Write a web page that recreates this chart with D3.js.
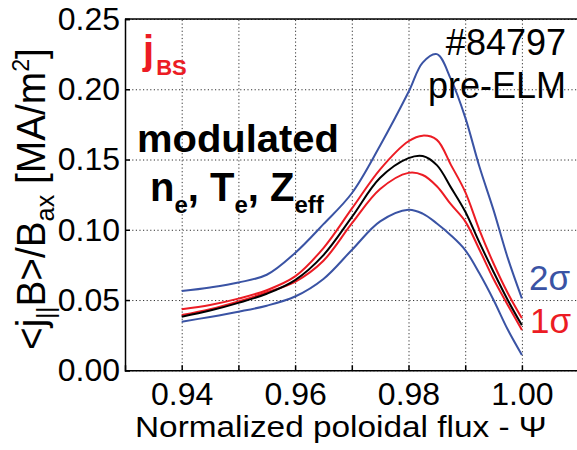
<!DOCTYPE html>
<html>
<meta charset="utf-8">
<style>
body { margin: 0; background: #fff; }
svg { display: block; }
text { font-family: "Liberation Sans", Arial, sans-serif; white-space: pre; }
.grid line { stroke: #333; stroke-width: 1; stroke-dasharray: 1.2, 2.4; }
.grid path { display: none; }
.axis path, .axis line { stroke: #000; stroke-width: 1.5; }
.axis text { font-size: 32px; fill: #000; }
</style>
<body>
<script src="https://cdn.jsdelivr.net/npm/d3@7"></script>
<script>

var width = 577,
    height = 450,
    x0 = 125, x1 = 578.6,
    y0 = 370.3, y1 = 19;

var blue = '#3a53a4',
    red = '#ec1c24';

/* normalized poloidal flux */
var psi = [0.94, 0.945, 0.95, 0.955, 0.96, 0.965, 0.97, 0.975, 0.98, 0.9825, 0.985, 0.9875, 0.99, 0.9925, 0.995, 0.9975, 1.00];

/* <j B>/B_ax, MA/m^2 */
var jMean   = [0.0381, 0.0425, 0.048, 0.0545, 0.0642, 0.082, 0.109, 0.137, 0.151, 0.1525, 0.146, 0.130, 0.113, 0.091, 0.070, 0.050, 0.032];
var jUp1    = [0.0434, 0.0465, 0.051, 0.057, 0.0668, 0.087, 0.115, 0.143, 0.163, 0.167, 0.164, 0.146, 0.127, 0.100, 0.076, 0.055, 0.037];
var jLow1   = [0.0393, 0.0435, 0.049, 0.0555, 0.0630, 0.078, 0.1045, 0.129, 0.1405, 0.139, 0.131, 0.118, 0.106, 0.086, 0.065, 0.0465, 0.0287];
var jUp2    = [0.0564, 0.059, 0.0625, 0.068, 0.0835, 0.104, 0.126, 0.160, 0.198, 0.219, 0.225, 0.207, 0.180, 0.145, 0.114, 0.080, 0.0512];
var jLow2   = [0.0346, 0.038, 0.0417, 0.046, 0.0525, 0.065, 0.0856, 0.106, 0.1143, 0.1115, 0.1045, 0.096, 0.0856, 0.069, 0.050, 0.029, 0.0109];

var xTicks = [0.94, 0.95, 0.96, 0.97, 0.98, 0.99, 1.00],
    xLabels = [0.94, 0.96, 0.98, 1.00],
    yTicks = [0, 0.05, 0.10, 0.15, 0.20, 0.25];

var svg = d3.select("body").append("svg")
    .attr("width", width)
    .attr("height", height);

var x = d3.scaleLinear().domain([0.93, 1.01]).range([x0, x1]);
var y = d3.scaleLinear().domain([0, 0.25]).range([y0, y1]);

/* dotted grid */
svg.append("g").attr("class", "grid")
    .attr("transform", "translate(0," + y0 + ")")
    .call(d3.axisBottom(x).tickValues(xTicks).tickSize(-(y0 - y1)).tickFormat(""));
svg.append("g").attr("class", "grid")
    .attr("transform", "translate(" + x0 + ",0)")
    .call(d3.axisLeft(y).tickValues(yTicks).tickSize(-(x1 - x0)).tickFormat(""));

/* axes, ticks pointing inward */
svg.append("g").attr("class", "axis")
    .attr("transform", "translate(0," + y0 + ")")
    .call(d3.axisBottom(x).tickValues(xTicks).tickSize(-5).tickPadding(8)
        .tickFormat(function(d) { return xLabels.indexOf(d) >= 0 ? d3.format(".2f")(d) : ""; }))
    .call(function(g) { g.selectAll("text").attr("dy", "0.71em").attr("y", 12); });
svg.append("g").attr("class", "axis")
    .attr("transform", "translate(" + x0 + ",0)")
    .call(d3.axisLeft(y).tickValues(yTicks).tickSize(-5).tickPadding(5).tickFormat(d3.format(".2f")));
svg.append("line")
    .attr("x1", x0).attr("x2", x1).attr("y1", y1).attr("y2", y1)
    .attr("stroke", "#000").attr("stroke-width", 1.5);

/* profiles */
var line = d3.line()
    .x(function(d) { return x(d[0]); })
    .y(function(d) { return y(d[1]); })
    .curve(d3.curveCatmullRom.alpha(0.5));

var series = [
    [jUp2, blue], [jLow2, blue],
    [jUp1, red], [jLow1, red],
    [jMean, '#000']
];
series.forEach(function(s) {
    svg.append("path")
        .datum(psi.map(function(p, i) { return [p, s[0][i]]; }))
        .attr("fill", "none")
        .attr("stroke", s[1])
        .attr("stroke-width", 2)
        .attr("d", line);
});

/* stretch a text along its own direction to a given length */
function fit(sel, len) {
    var w = sel.node().getBBox().width;
    var t = sel.attr("transform") || "";
    sel.attr("transform", t + " scale(" + (len / w) + ",1)");
}

/* axis titles */
var xt = svg.append("text")
    .attr("font-size", 30)
    .text("Normalized poloidal flux - \u03a8");
xt.attr("transform", "translate(135,437)");
fit(xt, 412);

var yt = svg.append("text")
    .attr("font-size", 40);
yt.append("tspan").text("<j");
yt.append("tspan").attr("font-size", 24).attr("dy", 9).text("||");
yt.append("tspan").attr("dy", -9).text("B>/B");
yt.append("tspan").attr("font-size", 26).attr("dy", 9).text("ax");
yt.append("tspan").attr("dy", -9).text(" [MA/m");
yt.append("tspan").attr("font-size", 24).attr("dy", -16).text("2");
yt.append("tspan").attr("dy", 16).text("]");
yt.attr("transform", "translate(45,350) rotate(-90)");
fit(yt, 302);

/* annotations */
var jbs = svg.append("text").attr("fill", red).attr("font-weight", "bold")
    .attr("x", 143).attr("y", 64).attr("font-size", 40);
jbs.append("tspan").text("j");
jbs.append("tspan").attr("font-size", 22).attr("dy", 11).attr("dx", 2).text("BS");

var mod = svg.append("text").attr("font-weight", "bold").attr("font-size", 38)
    .text("modulated");
mod.attr("transform", "translate(137,152)");
fit(mod, 202);

var l2 = svg.append("text").attr("font-weight", "bold").attr("font-size", 40)
    .attr("x", 150).attr("y", 201);
[["n", "e"], ["T", "e"], ["Z", "eff"]].forEach(function(p, i) {
    l2.append("tspan").text((i ? ", " : "") + p[0]).attr("dy", i ? -12 : 0);
    l2.append("tspan").attr("font-size", 24).attr("dy", 12).text(p[1]);
});

svg.append("text").attr("font-size", 36).attr("text-anchor", "end")
    .attr("x", 566).attr("y", 55).text("#84797");
svg.append("text").attr("font-size", 36).attr("text-anchor", "end")
    .attr("x", 566).attr("y", 98).text("pre-ELM");

svg.append("text").attr("font-size", 35).attr("fill", blue)
    .attr("x", 529).attr("y", 290).text("2\u03c3");
svg.append("text").attr("font-size", 35).attr("fill", red)
    .attr("x", 530).attr("y", 333).text("1\u03c3");

</script>
</body>
</html>
